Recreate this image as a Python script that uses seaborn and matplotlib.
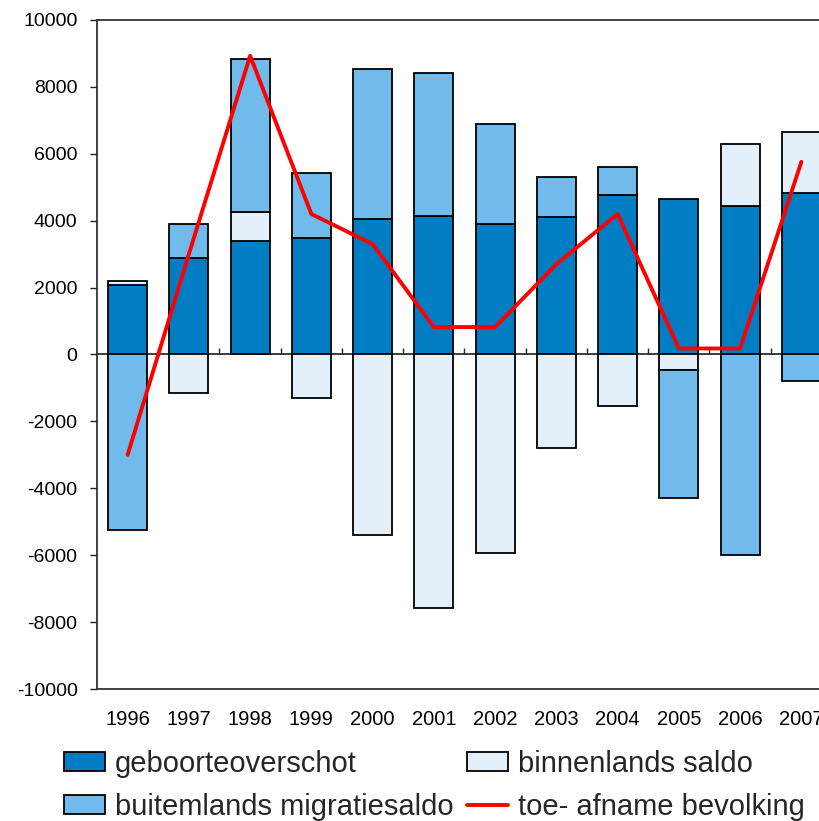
import numpy as np
import pandas as pd
import matplotlib
matplotlib.use("Agg")
import matplotlib.pyplot as plt
import seaborn as sns
from matplotlib.patches import Patch
from matplotlib.lines import Line2D

years = ["1996", "1997", "1998", "1999", "2000", "2001", "2002", "2003", "2004", "2005", "2006", "2007"]
geboorteoverschot = [2080, 2880, 3400, 3480, 4040, 4150, 3900, 4100, 4760, 4640, 4450, 4840]
binnenlands_saldo = [130, -1160, 870, -1290, -5390, -7570, -5920, -2810, -1540, -450, 1830, 1800]
buitenlands_migratiesaldo = [-5260, 1030, 4570, 1950, 4490, 4270, 3000, 1210, 850, -3840, -5980, -800]
toe_afname = [-3000, 3000, 8930, 4200, 3300, 820, 820, 2700, 4200, 180, 180, 5760]

labels = ["geboorteoverschot", "binnenlands saldo", "buitemlands migratiesaldo", "toe- afname bevolking"]
c_geb = "#007DC3"
c_binn = "#E3F0FA"
c_buit = "#70BBEC"
c_line = "#FF0000"

sns.set_theme(style="white")
plt.rcParams["font.family"] = ["Liberation Sans", "DejaVu Sans"]

fig = plt.figure(figsize=(8.2, 8.21), dpi=100)
ax = fig.add_axes([97/820, (821-689)/821, 735/820, 669/821])

series = [geboorteoverschot, binnenlands_saldo, buitenlands_migratiesaldo]
colors = [c_geb, c_binn, c_buit]
pos_base = np.zeros(len(years))
neg_base = np.zeros(len(years))
for vals, col in zip(series, colors):
    v = np.array(vals, dtype=float)
    bottom = np.where(v >= 0, pos_base, neg_base)
    df = pd.DataFrame({"year": years, "val": v})
    sns.barplot(data=df, x="year", y="val", bottom=bottom, color=col, saturation=1,
                edgecolor="black", linewidth=1.3, width=0.64, errorbar=None, ax=ax)
    pos_base = pos_base + np.where(v >= 0, v, 0)
    neg_base = neg_base + np.where(v < 0, v, 0)

ldf = pd.DataFrame({"pos": np.arange(len(years)), "val": toe_afname})
sns.lineplot(data=ldf, x="pos", y="val", color=c_line, linewidth=2.8, ax=ax)

ax.set_xlim(-0.5, len(years) - 0.5)
ax.set_ylim(-10000, 10000)
ax.set_yticks(np.arange(-10000, 10001, 2000))
ax.set_yticklabels([str(v) for v in range(-10000, 10001, 2000)])
ax.set_xticks(np.arange(len(years)))
ax.set_xticklabels(years)
ax.set_xlabel("")
ax.set_ylabel("")
ax.tick_params(axis="y", left=True, direction="out", length=5, width=1, color="#222222",
               labelsize=14, pad=9, labelcolor="black")
ax.tick_params(axis="x", bottom=False, length=0, labelsize=14.5, pad=15, labelcolor="black")
for s in ["left", "bottom", "top", "right"]:
    ax.spines[s].set_color("#333333")
    ax.spines[s].set_linewidth(1.3)

sec = ax.secondary_xaxis(0.5)
sec.set_xticks(np.arange(0.5, len(years) - 0.5, 1.0))
sec.set_xticklabels([])
sec.tick_params(direction="out", length=4, width=1, color="#222222")
sec.spines["bottom"].set_color("#333333")
sec.spines["bottom"].set_linewidth(1.3)

handles = [
    Patch(facecolor=c_geb, edgecolor="black", linewidth=1.3),
    Patch(facecolor=c_binn, edgecolor="black", linewidth=1.3),
    Patch(facecolor=c_buit, edgecolor="black", linewidth=1.3),
    Line2D([0], [0], color=c_line, linewidth=2.8),
]
order = [0, 2, 1, 3]
fig.legend([handles[i] for i in order], [labels[i] for i in order], ncol=2,
           loc="upper left", bbox_to_anchor=(64/820, (821-750)/821), frameon=False,
           fontsize=21, handlelength=1.4, handleheight=0.62, handletextpad=0.35,
           columnspacing=0.45, labelspacing=0.5, borderpad=0, borderaxespad=0)

fig.savefig("out.png", dpi=100)
